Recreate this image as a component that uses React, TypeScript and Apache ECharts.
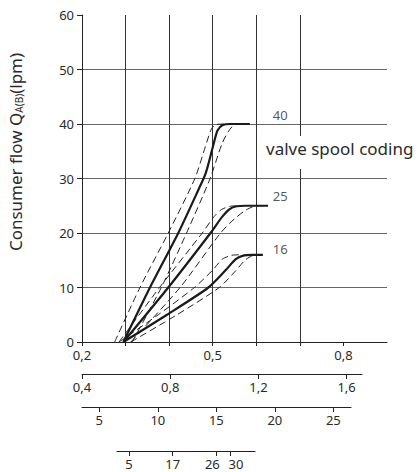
import React, { useEffect, useRef } from "react";
import * as echarts from "echarts";

// Control pressure (bar) axis 1 -> Consumer flow (lpm)
const solid40 = [[0.295, 0], [0.356, 10], [0.421, 20], [0.467, 27.9], [0.484, 31], [0.501, 36], [0.511, 38.8], [0.523, 39.8], [0.54, 40], [0.585, 40]];
const min40 = [[0.275, 0], [0.333, 10], [0.398, 20], [0.459, 30], [0.483, 35.8], [0.497, 39.1], [0.508, 39.9], [0.53, 40]];
const max40 = [[0.315, 0], [0.382, 10], [0.44, 20], [0.494, 30], [0.522, 36.5], [0.542, 39.3], [0.56, 40], [0.585, 40]];

const solid25 = [[0.295, 0], [0.398, 10], [0.495, 20], [0.522, 23], [0.539, 24.4], [0.555, 24.9], [0.575, 25], [0.627, 25]];
const min25 = [[0.285, 0], [0.378, 10], [0.476, 20], [0.503, 23], [0.52, 24.3], [0.54, 24.9], [0.56, 25]];
const max25 = [[0.312, 0], [0.425, 10], [0.518, 20], [0.55, 22.6], [0.576, 24.2], [0.595, 24.9], [0.61, 25], [0.627, 25]];

const solid16 = [[0.295, 0], [0.395, 5], [0.49, 10], [0.53, 13.2], [0.553, 15.2], [0.572, 15.9], [0.59, 16], [0.615, 16]];
const min16 = [[0.285, 0], [0.375, 5], [0.458, 10], [0.5, 13.2], [0.522, 15.2], [0.543, 15.9], [0.56, 16]];
const max16 = [[0.312, 0], [0.418, 5], [0.515, 10], [0.552, 13], [0.574, 15], [0.59, 15.8], [0.605, 16], [0.615, 16]];

const curveLabels = [[0.655, 41.6, "40"], [0.655, 26.7, "25"], [0.655, 17.1, "16"]];

const mainXLabels = [0.2, 0.5, 0.8];
const mainXTicks = [0.2, 0.3, 0.4, 0.5, 0.6, 0.7, 0.8];
const axis2Ticks = [0.4, 0.8, 1.2, 1.6];
const axis3Ticks = [5, 10, 15, 20, 25];
const axis4Labels = [5, 17, 26, 30];
const axis4Pos = [0.3078, 0.408, 0.507, 0.5394];
const axis4Shift = ["c", "c", "l", "r"];

const FONT = "Noto Sans";
const TXT = "#2a2a2a";

const comma = (v: number) => String(Math.round(v * 10) / 10).replace(".", ",");

export default function App() {
  const ref = useRef<HTMLDivElement>(null);
  useEffect(() => {
    const chart = echarts.init(ref.current!, null, { renderer: "svg" });
    const solid = (data: number[][]) => ({
      type: "line", xAxisIndex: 0, yAxisIndex: 0, data, showSymbol: false, symbol: "none",
      smooth: 0.25,
      lineStyle: { color: "#1a1a1a", width: 2.2 }, z: 5,
    });
    const dashed = (data: number[][]) => ({
      type: "line", xAxisIndex: 0, yAxisIndex: 0, data, showSymbol: false, symbol: "none",
      smooth: 0.25,
      lineStyle: { color: "#222", width: 1, type: [7, 4] }, z: 4,
    });
    const bottomAxis = (gridIndex: number, min: number, max: number, ticks: number[], fmt: (v: number) => string, extra: any = {}) => ({
      type: "value", gridIndex, min, max, position: "bottom",
      axisLine: { show: true, onZero: false, lineStyle: { color: "#222", width: 1 } },
      axisTick: { show: true, customValues: ticks, length: 5, lineStyle: { color: "#222" } },
      axisLabel: { show: true, customValues: ticks, formatter: fmt, fontSize: 13, fontFamily: FONT, color: TXT, margin: 6, hideOverlap: false, ...extra },
      splitLine: { show: false },
    });
    const hiddenY = (gridIndex: number) => ({
      type: "value", gridIndex, show: false, min: 0, max: 1,
    });
    chart.setOption({
      animation: false,
      grid: [
        { left: 82, top: 15, width: 305, height: 327 },
        { left: 82, top: 373, width: 280, height: 1 },
        { left: 82, top: 406, width: 269, height: 1 },
        { left: 117, top: 450, width: 138, height: 1 },
      ],
      xAxis: [
        {
          type: "value", gridIndex: 0, min: 0.2, max: 0.9, interval: 0.1,
          axisLine: { show: true, onZero: false, lineStyle: { color: "#222", width: 1 } },
          axisTick: { show: true, customValues: mainXTicks, length: 4, lineStyle: { color: "#222" } },
          axisLabel: { show: true, customValues: mainXLabels, formatter: comma, fontSize: 13, fontFamily: FONT, color: TXT, margin: 6 },
          splitLine: { show: true, showMinLine: false, showMaxLine: false, lineStyle: { color: "#333", width: 1 } },
        },
        bottomAxis(1, 0.4, 1.67, axis2Ticks, comma),
        bottomAxis(2, 3.52, 26.51, axis3Ticks, (v: number) => String(Math.round(v))),
        bottomAxis(3, 0.2803, 0.5968, axis4Pos, (v: number) => {
          const i = axis4Pos.findIndex((p) => Math.abs(p - v) < 1e-6);
          return i >= 0 ? `{${axis4Shift[i]}|${axis4Labels[i]}}` : "";
        }, {
          rich: {
            c: { fontSize: 13, fontFamily: FONT, color: TXT },
            l: { fontSize: 13, fontFamily: FONT, color: TXT, padding: [0, 7, 0, 0] },
            r: { fontSize: 13, fontFamily: FONT, color: TXT, padding: [0, 0, 0, 12] },
          },
        }),
      ],
      yAxis: [
        {
          type: "value", gridIndex: 0, min: 0, max: 60, interval: 10,
          axisLine: { show: true, onZero: false, lineStyle: { color: "#222", width: 1 } },
          axisTick: { show: true, length: 5, lineStyle: { color: "#222" } },
          axisLabel: { fontSize: 13, fontFamily: FONT, color: TXT, margin: 8 },
          splitLine: { show: true, showMinLine: false, showMaxLine: false, lineStyle: { color: "#666", width: 1.2 } },
        },
        hiddenY(1), hiddenY(2), hiddenY(3),
      ],
      series: [
        dashed(min40), dashed(max40), solid(solid40),
        dashed(min25), dashed(max25), solid(solid25),
        dashed(min16), dashed(max16), solid(solid16),
        {
          type: "scatter", xAxisIndex: 0, yAxisIndex: 0, data: curveLabels, symbolSize: 0, z: 6,
          label: { show: true, position: "inside", formatter: (p: any) => p.value[2], fontSize: 13, fontFamily: FONT, color: TXT },
        },
      ],
      graphic: [
        { type: "rect", left: 262, top: 136, shape: { width: 158, height: 33 }, style: { fill: "#fff" }, z: 10 },
        {
          type: "text", left: 266, top: 140, z: 11,
          style: { text: "valve spool coding", font: `17px "${FONT}"`, fill: TXT },
        },
        {
          type: "text", x: 15, y: 152, rotation: Math.PI / 2, z: 11,
          style: {
            text: "Consumer flow Q{sub|A(B)}(lpm)",
            font: `17px "${FONT}"`, fill: TXT, align: "center", verticalAlign: "middle",
            rich: { sub: { fontSize: 10, fontFamily: FONT, fill: TXT, verticalAlign: "bottom", padding: [6, 0, 0, 0] } },
          },
        },
      ],
    });
    return () => chart.dispose();
  }, []);
  return <div ref={ref} style={{ position: "absolute", left: 0, top: 0, width: 420, height: 472 }} />;
}
